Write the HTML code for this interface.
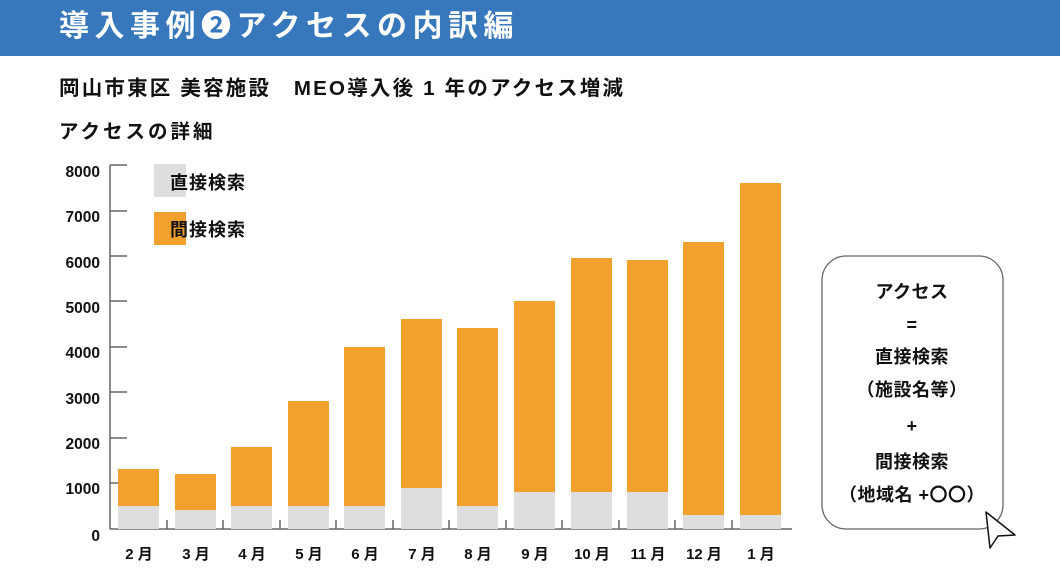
<!DOCTYPE html>
<html><head><meta charset="utf-8"><style>
body{margin:0;width:1060px;height:575px;background:#fff;position:relative;overflow:hidden;font-family:"Liberation Sans","Noto Sans CJK JP",sans-serif;font-weight:bold;color:#111}
.abs{position:absolute;white-space:nowrap}
</style></head><body>
<div class="abs" style="left:0;top:0;width:1060px;height:56px;background:#3777bc"></div>
<div class="abs" style="left:59px;top:1px;font-size:30px;color:#fff;letter-spacing:5.5px">導入事例❷アクセスの内訳編</div>
<div class="abs" style="left:59px;top:71px;font-size:20.5px;letter-spacing:2.2px">岡山市東区 美容施設　MEO導入後 1 年のアクセス増減</div>
<div class="abs" style="left:59px;top:115px;font-size:19.5px;letter-spacing:3px">アクセスの詳細</div>
<svg class="abs" style="left:0;top:0" width="1060" height="575">
<g font-family="Liberation Sans, Noto Sans CJK JP, sans-serif" font-weight="bold" font-size="15.5" fill="#111" text-anchor="end">
<text x="100" y="177">8000</text><text x="100" y="222">7000</text><text x="100" y="268">6000</text><text x="100" y="313">5000</text><text x="100" y="358">4000</text><text x="100" y="404">3000</text><text x="100" y="449">2000</text><text x="100" y="494">1000</text><text x="100" y="541">0</text>
</g>
<g stroke="#666" stroke-width="1.5">
<line x1="110" y1="165" x2="110" y2="529"/>
<line x1="110" y1="529" x2="792" y2="529"/>
<line x1="110" y1="165" x2="127" y2="165"/><line x1="110" y1="211" x2="127" y2="211"/><line x1="110" y1="256" x2="127" y2="256"/><line x1="110" y1="301" x2="127" y2="301"/><line x1="110" y1="347" x2="127" y2="347"/><line x1="110" y1="392" x2="127" y2="392"/><line x1="110" y1="438" x2="127" y2="438"/><line x1="110" y1="483" x2="127" y2="483"/>
</g>
<g fill="#f2a12f">
<rect x="118" y="469" width="41" height="60"/><rect x="175" y="474" width="41" height="55"/><rect x="231" y="447" width="41" height="82"/><rect x="288" y="401" width="41" height="128"/><rect x="344" y="347" width="41" height="182"/><rect x="401" y="319" width="41" height="210"/><rect x="457" y="328" width="41" height="201"/><rect x="514" y="301" width="41" height="228"/><rect x="571" y="258" width="41" height="271"/><rect x="627" y="260" width="41" height="269"/><rect x="683" y="242" width="41" height="287"/><rect x="740" y="183" width="41" height="346"/>
</g>
<g fill="#dedede">
<rect x="118" y="506" width="41" height="23"/><rect x="175" y="510" width="41" height="19"/><rect x="231" y="506" width="41" height="23"/><rect x="288" y="506" width="41" height="23"/><rect x="344" y="506" width="41" height="23"/><rect x="401" y="488" width="41" height="41"/><rect x="457" y="506" width="41" height="23"/><rect x="514" y="492" width="41" height="37"/><rect x="571" y="492" width="41" height="37"/><rect x="627" y="492" width="41" height="37"/><rect x="683" y="515" width="41" height="14"/><rect x="740" y="515" width="41" height="14"/>
</g>
<g stroke="#666" stroke-width="1.5">
<line x1="167" y1="520" x2="167" y2="529"/><line x1="223" y1="520" x2="223" y2="529"/><line x1="280" y1="520" x2="280" y2="529"/><line x1="336" y1="520" x2="336" y2="529"/><line x1="393" y1="520" x2="393" y2="529"/><line x1="449" y1="520" x2="449" y2="529"/><line x1="506" y1="520" x2="506" y2="529"/><line x1="562" y1="520" x2="562" y2="529"/><line x1="619" y1="520" x2="619" y2="529"/><line x1="675" y1="520" x2="675" y2="529"/><line x1="732" y1="520" x2="732" y2="529"/>
</g>
<g font-family="Liberation Sans, Noto Sans CJK JP, sans-serif" font-weight="bold" font-size="15" fill="#111" text-anchor="middle">
<text x="139" y="559">2 月</text><text x="196" y="559">3 月</text><text x="252" y="559">4 月</text><text x="309" y="559">5 月</text><text x="365" y="559">6 月</text><text x="422" y="559">7 月</text><text x="478" y="559">8 月</text><text x="535" y="559">9 月</text><text x="592" y="559">10 月</text><text x="648" y="559">11 月</text><text x="704" y="559">12 月</text><text x="761" y="559">1 月</text>
</g>
<rect x="154" y="164" width="32" height="33" fill="#dedede"/>
<rect x="154" y="212" width="32" height="33" fill="#f2a12f"/>
<g font-family="Liberation Sans, Noto Sans CJK JP, sans-serif" font-weight="bold" font-size="18" fill="#111" letter-spacing="1">
<text x="170" y="189">直接検索</text><text x="170" y="236">間接検索</text>
</g>
<rect x="822" y="256" width="181" height="273" rx="24" fill="#fff" stroke="#666" stroke-width="1.3"/>
<g font-family="Liberation Sans, Noto Sans CJK JP, sans-serif" font-weight="bold" font-size="18" fill="#111" text-anchor="middle" letter-spacing="0.5">
<text x="912" y="298">アクセス</text><text x="912" y="331">=</text><text x="912" y="363">直接検索</text><text x="912" y="396">（施設名等）</text><text x="912" y="432">+</text><text x="912" y="468">間接検索</text><text x="912" y="501">（地域名 +〇〇）</text>
</g>
<path d="M986,512 L990,548 L998,536 L1015,535 Z" fill="#fff" stroke="#111" stroke-width="1.5" stroke-linejoin="round"/>
</svg>
</body></html>
